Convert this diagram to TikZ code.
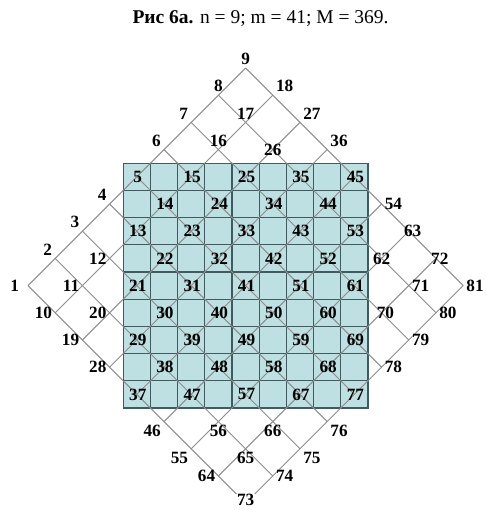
\documentclass[tikz,border=0pt]{standalone}
\usepackage{fontspec}
\setmainfont{Liberation Serif}
\usepackage{xcolor}
\definecolor{SquareFill}{HTML}{BEE0E2}
\definecolor{SquareEdge}{HTML}{3F5B60}
\definecolor{LatticeGray}{HTML}{8C8C8C}
\tikzset{
    % Square styles
    square/.style={
        draw=SquareEdge,
        fill=SquareFill,
        line width=0.7pt
    },
    cellline/.style={
        draw=SquareEdge,
        line width=0.6pt
    },
    % Lattice styles
    lattice/.style={
        draw=LatticeGray,
        line width=0.5pt
    },
    number/.style={
        inner sep=1.5pt,
        font=\fontsize{9}{10}\selectfont\bfseries
    },
    caption/.style={
        font=\fontsize{10.2}{12}\selectfont
    }
}

\begin{document}
\begin{tikzpicture}[x=0.5cm, y=0.5cm]
    \useasboundingbox (-9.03,-8.25) rectangle (8.81,10.50);

    % Caption
    \node[caption] (title) at (0.55,9.83) {\textbf{Рис 6а.} n = 9; m = 41; M = 369.};

    % Lattice points
    \foreach \a in {0,...,8}
        \foreach \b in {0,...,8} {
            \pgfmathtruncatemacro{\k}{9*\a+\b+1}
            \coordinate (v\k) at ({-8+\a+\b},{\b-\a});
        }

    % Square 9x9
    \draw[square] (-4.5,-4.5) rectangle (4.5,4.5);
    \foreach \i in {-3.5,-2.5,-1.5,-0.5,0.5,1.5,2.5,3.5} {
        \draw[cellline] (\i,-4.5) -- (\i,4.5);
        \draw[cellline] (-4.5,\i) -- (4.5,\i);
    }

    % Lattice lines
    \foreach \i in {0,...,8} {
        \pgfmathtruncatemacro{\s}{9*\i+1}
        \pgfmathtruncatemacro{\e}{9*\i+9}
        \draw[lattice] (v\s) -- (v\e);
        \pgfmathtruncatemacro{\s}{\i+1}
        \pgfmathtruncatemacro{\e}{\i+73}
        \draw[lattice] (v\s) -- (v\e);
    }

    % Numbers inside the square
    \foreach \k in {5,13,14,15,21,22,23,24,25,29,30,31,32,33,34,35,
                    37,38,39,40,41,42,43,44,45,47,48,49,50,51,52,53,
                    57,58,59,60,61,67,68,69,77}
        \node[number, xshift=0.5pt] (n\k) at (v\k) {\k};

    % Numbers outside the square
    \foreach \k/\pos in {10/east,11/east,12/east,19/east,20/east,28/east,64/east,
                         2/south east,3/south east,4/south east,6/south east,7/south east,
                         8/south,9/south,16/south,17/south,
                         18/south west,27/south west,36/south west,
                         54/west,71/west,74/west,78/west,79/west,80/west,81/west,
                         46/north east,55/north east,56/north,65/north,66/north,
                         75/north west,76/north west}
        \node[number, anchor=\pos] (n\k) at (v\k) {\k};
    \node[number, anchor=east, xshift=-3pt] (n1) at (v1) {1};
    \node[number] (n26) at (v26) {26};
    \node[number] (n62) at (v62) {62};
    \node[number, xshift=2pt] (n63) at (v63) {63};
    \node[number, xshift=2pt] (n70) at (v70) {70};
    \node[number, xshift=2pt] (n72) at (v72) {72};
    \node[number, fill=white, inner sep=0.5pt, yshift=1.5pt] (n73) at (v73) {73};
\end{tikzpicture}
\end{document}
